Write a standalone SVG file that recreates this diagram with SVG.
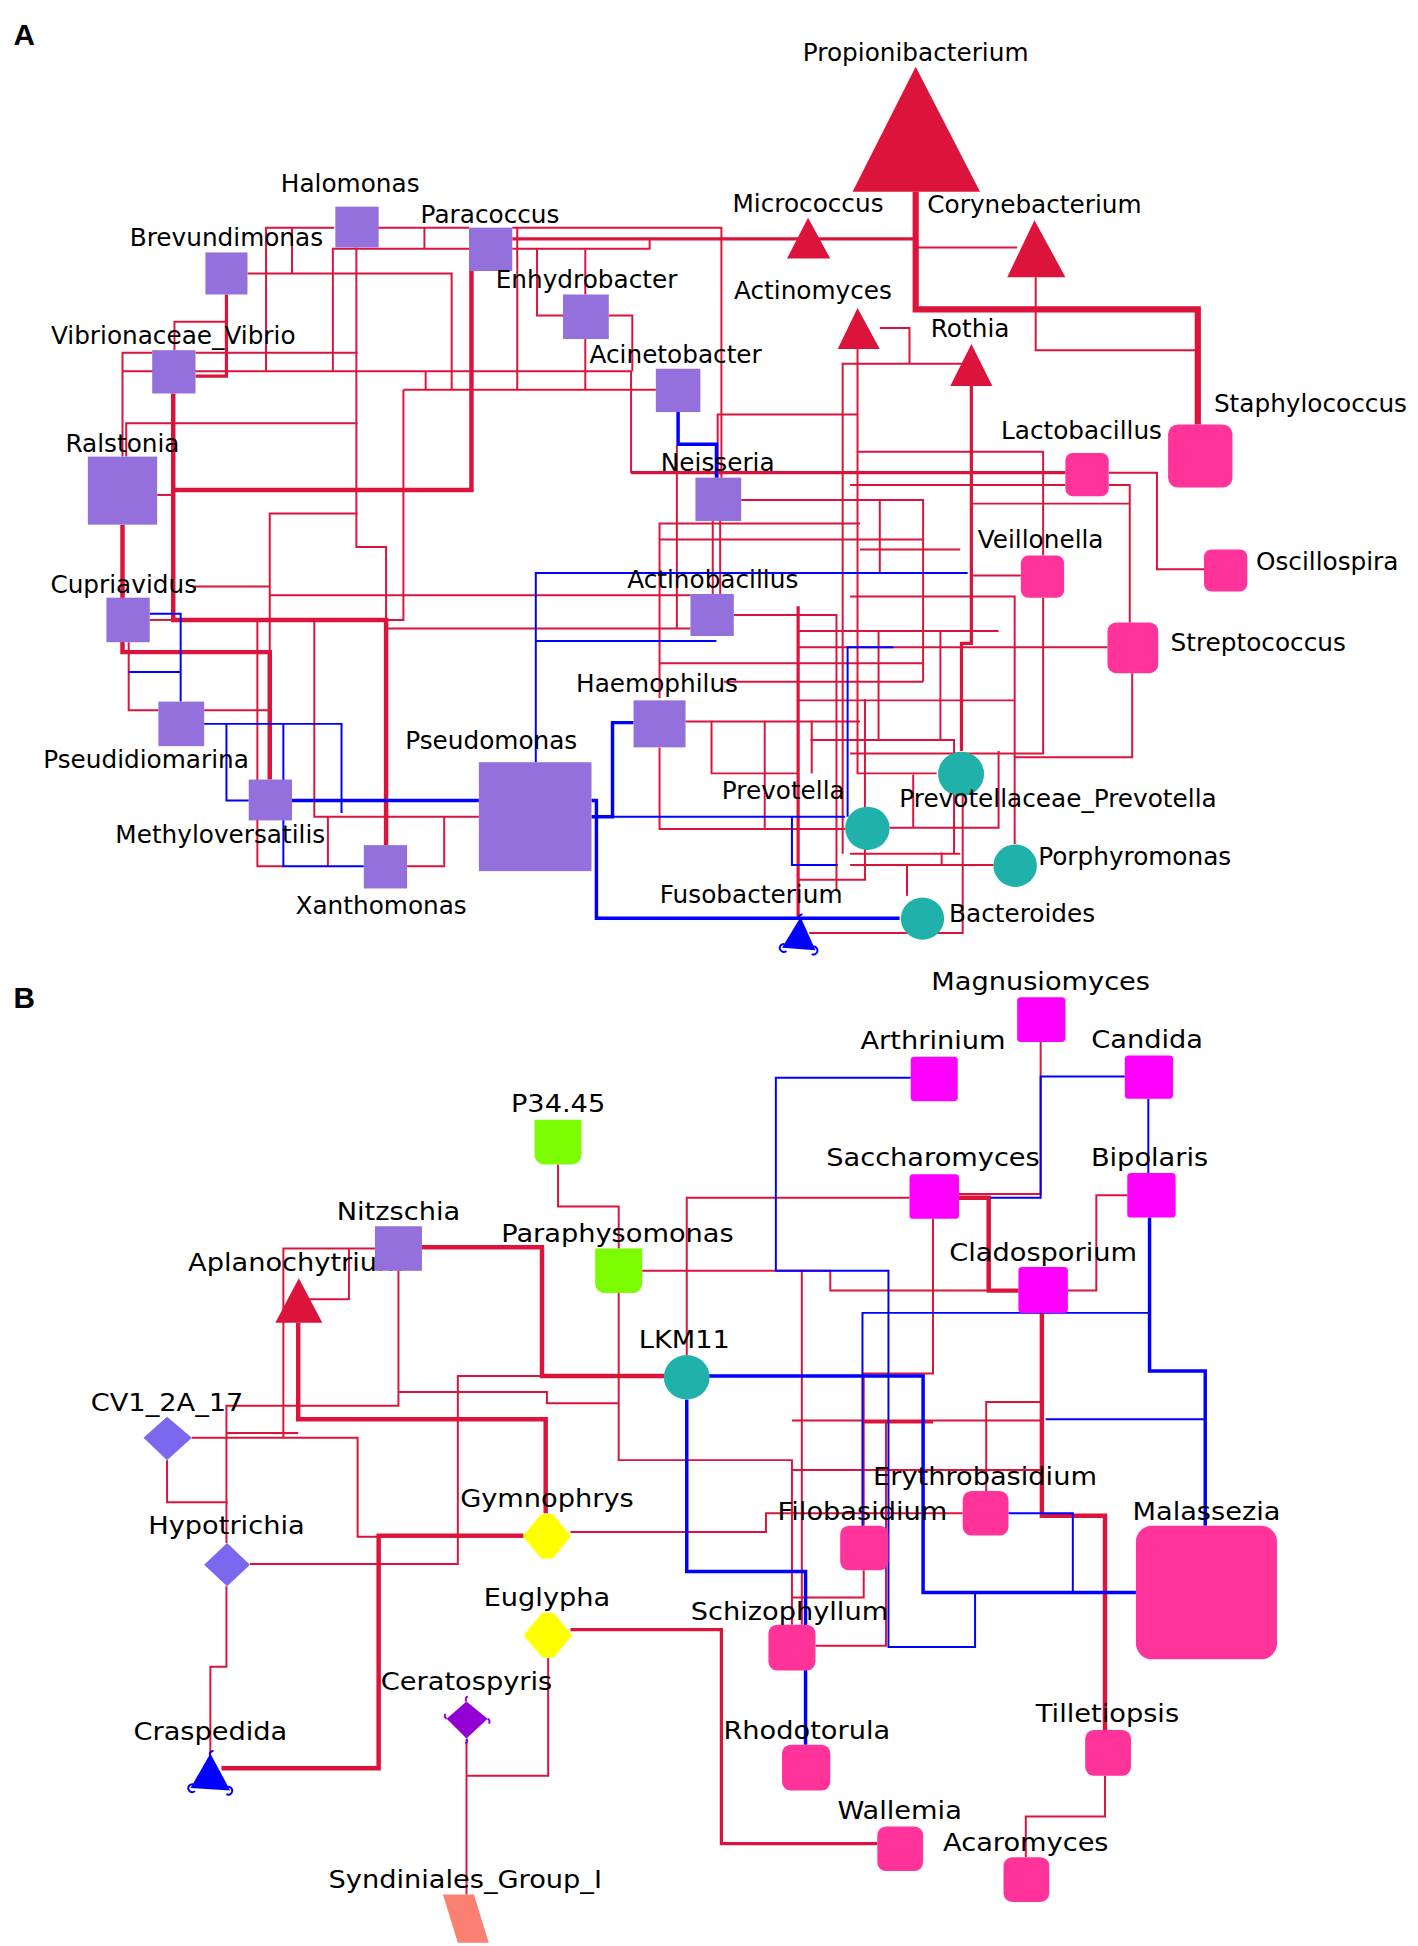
<svg xmlns="http://www.w3.org/2000/svg" width="1418" height="1946" viewBox="0 0 1418 1946">
<style>
.r{stroke:#DC143C;stroke-width:1.6;fill:none}
.r2{stroke:#DC143C;stroke-width:2.6;fill:none}
.r3{stroke:#DC143C;stroke-width:3.6;fill:none}
.r5{stroke:#DC143C;stroke-width:5;fill:none}
.b{stroke:#0000FF;stroke-width:1.6;fill:none}
.b2{stroke:#0000FF;stroke-width:2.8;fill:none}
text{font-family:"DejaVu Sans","Liberation Sans",sans-serif;font-size:20px;fill:#000}
.s{text-anchor:start}
.m{text-anchor:middle}
.hd{font-family:"Liberation Sans",Arial,sans-serif;font-weight:bold;font-size:24px}
.pu{fill:#9370DB}
.cr{fill:#DC143C}
.pk{fill:#FF3399}
.tl{fill:#20B2AA}
.mg{fill:#FF00FF}
.gr{fill:#7CFC00}
.ye{fill:#FFFF00;stroke:#FFFF00;stroke-width:3;stroke-linejoin:round}
.sl{fill:#7B68EE}
.curl{fill:none;stroke-width:1.6}
</style>
<rect width="1418" height="1946" fill="#fff"/>
<g transform="scale(1.2374)">
<text class="hd" x="11" y="36">A</text>
<text class="hd" x="11" y="815">B</text>

<g id="connectors">
<!-- Panel A red -->
<polyline class="r" points="215,300 215,184 270,184"/>
<polyline class="r" points="305,184 379,184"/>
<polyline class="r" points="414,184 583,184 583,386"/>
<polyline class="r" points="236,184 236,221"/>
<polyline class="r" points="200,221 365,221 365,315"/>
<polyline class="r" points="343,184 343,201"/>
<polyline class="r" points="379,201 269,201 269,300"/>
<polyline class="r" points="414,201 525,201 525,193"/>
<polyline class="r" points="473,201 473,238"/>
<polyline class="r" points="473,274 473,315"/>
<polyline class="r" points="434,201 434,255 455,255"/>
<polyline class="r" points="492,255 511,255 511,300"/>
<polyline class="r" points="326,315 530,315"/>
<polyline class="r" points="344,300 344,315"/>
<polyline class="r" points="418,184 418,315"/>
<polyline class="r" points="326,315 326,501 312,501"/>
<polyline class="r" points="288,200 288,442 312,442 312,683"/>
<polyline class="r" points="183,260 141,260 141,283"/>
<polyline class="r" points="99,369 99,285 123,285"/>
<polyline class="r" points="158,285 289,285"/>
<polyline class="r" points="99,300 510,300 510,382"/>
<polyline class="r2" points="510,382 861,382"/>
<polyline class="r" points="102,369 102,342 289,342"/>
<polyline class="r" points="218,527 218,415 289,415"/>
<polyline class="r" points="157,474 218,474"/>
<polyline class="r" points="218,481 558,481"/>
<polyline class="r" points="313,508 558,508"/>
<polyline class="r" points="127,400 140,400"/>
<polyline class="r" points="121,501 140,501"/>
<polyline class="r" points="104,519 104,574 128,574"/>
<polyline class="r" points="165,574 218,574"/>
<polyline class="r" points="208,501 208,700 229,700"/>
<polyline class="r" points="254,501 254,660 387,660"/>
<polyline class="r" points="265,660 265,700"/>
<polyline class="r" points="329,700 359,700 359,660"/>
<polyline class="r" points="554,583 695,583"/>
<polyline class="r" points="533,604 533,670 683,670"/>
<polyline class="r" points="533,564 533,423 695,423"/>
<polyline class="r" points="533,436 746,436"/>
<polyline class="r" points="599,404 746,404 746,551"/>
<polyline class="r" points="576,421 576,480"/>
<polyline class="r" points="582,421 582,480"/>
<polyline class="r" points="547,360 547,508"/>
<polyline class="r" points="593,497 676,497 676,720"/>
<polyline class="r" points="693,282 693,625 757,625"/>
<polyline class="r" points="711,265 735,265 735,294"/>
<polyline class="r" points="681,690 681,294 785,294"/>
<polyline class="r" points="580,386 580,335 693,335"/>
<polyline class="r" points="693,365 843,365 843,449"/>
<polyline class="r" points="843,483 843,609 687,609"/>
<polyline class="r" points="687,392 861,392"/>
<polyline class="r" points="896,392 913,392 913,503"/>
<polyline class="r" points="785,407 913,407"/>
<polyline class="r" points="973,460 935,460 935,382 896,382"/>
<polyline class="r" points="915,544 915,612 820,612 820,682"/>
<polyline class="r" points="645,523 895,523"/>
<polyline class="r" points="825,465 785,465"/>
<polyline class="r" points="776,444 695,444"/>
<polyline class="r" points="687,482 820,482 820,612"/>
<polyline class="r" points="654,754 778,754 778,643"/>
<polyline class="r" points="719,669 807,669 807,607"/>
<polyline class="r" points="687,690 776,690"/>
<polyline class="r" points="687,699 803,699"/>
<polyline class="r" points="733,699 733,724"/>
<polyline class="r" points="699,565 699,711"/>
<polyline class="r" points="533,536 746,536"/>
<polyline class="r" points="585,551 746,551"/>
<polyline class="r" points="575,583 575,625 645,625"/>
<polyline class="r" points="618,583 618,669"/>
<polyline class="r" points="645,711 700,711"/>
<polyline class="r" points="711,404 711,463"/>
<polyline class="r" points="656,583 656,625"/>
<polyline class="r" points="738,626 738,669"/>
<polyline class="r" points="761,689 761,699"/>
<polyline class="r" points="645,566 820,566"/>
<polyline class="r" points="655,598 771,598 771,690"/>
<polyline class="r" points="710,510 710,598"/>
<polyline class="r" points="760,510 760,598"/>
<polyline class="r" points="645,510 807,510"/>
<polyline class="r" points="740,200 822,200"/>
<polyline class="r" points="837,224 837,283 968,283"/>
<polyline class="r2" points="414,193 740,193"/>
<polyline class="r5" points="740,155 740,250 968,250 968,343"/>
<polyline class="r3" points="381,219 381,396 140,396"/>
<polyline class="r3" points="140,318 140,501 312,501 312,683"/>
<polyline class="r2" points="183,238 183,304 158,304"/>
<polyline class="r3" points="99,424 99,527 218,527 218,630"/>
<polyline class="r2" points="785,312 785,520 777,520 777,607"/>
<polyline class="r2" points="645,490 645,743"/>
<!-- Panel A blue -->
<polyline class="b2" points="548,333 548,359 579,359 579,386"/>
<polyline class="b" points="121,496 146,496 146,567"/>
<polyline class="b" points="104,543 146,543"/>
<polyline class="b" points="165,585 276,585 276,657"/>
<polyline class="b" points="183,585 183,647 201,647"/>
<polyline class="b" points="229,585 229,700 294,700"/>
<polyline class="b2" points="236,647 387,647"/>
<polyline class="b" points="433,616 433,463 782,463"/>
<polyline class="b" points="433,518 579,518"/>
<polyline class="b2" points="478,660 495,660 495,584 512,584"/>
<polyline class="b" points="495,660 683,660"/>
<polyline class="b2" points="478,647 482,647 482,742 727,742"/>
<polyline class="b" points="640,660 640,699 677,699"/>
<polyline class="b" points="722,523 685,523 685,660"/>

<!-- Panel B red -->
<polyline class="r" points="451,941 451,975 500,975 500,1009"/>
<polyline class="r" points="229,1162 229,1009 303,1009"/>
<polyline class="r" points="241,1050 282,1050 282,1009"/>
<polyline class="r" points="322,1027 322,1136 183,1136 183,1247"/>
<polyline class="r" points="155,1162 289,1162 289,1242 423,1242"/>
<polyline class="r" points="183,1158 241,1158"/>
<polyline class="r" points="202,1264 370,1264 370,1112 438,1112"/>
<polyline class="r" points="183,1282 183,1347 170,1347 170,1417"/>
<polyline class="r" points="135,1180 135,1214 184,1214"/>
<polyline class="r" points="461,1238 619,1238 619,1223 778,1223"/>
<polyline class="r" points="377,1406 377,1531"/>
<polyline class="r" points="443,1340 443,1435 377,1435"/>
<polyline class="r" points="519,1027 648,1027 648,1313"/>
<polyline class="r" points="735,968 555,968 555,1095"/>
<polyline class="r" points="841,842 841,965 775,965"/>
<polyline class="r" points="911,966 886,966 886,1043 863,1043"/>
<polyline class="r" points="893,1435 893,1468 829,1468 829,1501"/>
<polyline class="r" points="754,985 754,1110 698,1110 698,1233"/>
<polyline class="r" points="842,1133 797,1133 797,1205"/>
<polyline class="r" points="640,1188 842,1188"/>
<polyline class="r" points="698,1269 698,1291 640,1291"/>
<polyline class="r" points="500,1045 500,1180 640,1180 640,1313"/>
<polyline class="r" points="648,1027 671,1027 671,1043 823,1043"/>
<polyline class="r" points="640,1148 842,1148"/>
<polyline class="r" points="322,1125 442,1125 442,1134 500,1134"/>
<polyline class="r2" points="461,1317 583,1317 583,1490 709,1490"/>
<polyline class="r3" points="341,1008 438,1008 438,1112 537,1112"/>
<polyline class="r3" points="241,1069 241,1147 441,1147 441,1223"/>
<polyline class="r3" points="179,1429 306,1429 306,1241 423,1241"/>
<polyline class="r3" points="775,968 799,968 799,1043 823,1043"/>
<polyline class="r3" points="842,1061 842,1225 893,1225 893,1398"/>
<polyline class="r2" points="698,1149 754,1149"/>
<!-- Panel B blue -->
<polyline class="b2" points="555,1131 555,1270 651,1270 651,1410"/>
<polyline class="b2" points="571,1112 746,1112 746,1287 918,1287"/>
<polyline class="b" points="909,870 841,870 841,968 800,968"/>
<polyline class="b" points="928,888 928,948"/>
<polyline class="b2" points="929,984 929,1108 974,1108 974,1233"/>
<polyline class="b" points="929,1061 697,1061 697,1233"/>
<polyline class="b" points="815,1223 867,1223 867,1287"/>
<polyline class="b" points="736,871 627,871 627,1027 718,1027 718,1331 788,1331 788,1287"/>
<polyline class="b" points="845,1147 974,1147"/>
<polyline class="r" points="659,1330 716,1330 716,1150"/>
</g>

<!-- Panel A nodes -->
<g id="Propionibacterium"><polygon class="cr" points="740,54 689,155 792,155"/><text class="m" x="740" y="49">Propionibacterium</text></g>
<g id="Micrococcus"><polygon class="cr" points="653,176 636,209 671,209"/><text class="m" x="653" y="171">Micrococcus</text></g>
<g id="Corynebacterium"><polygon class="cr" points="836,178 814,224 861,224"/><text class="m" x="836" y="172">Corynebacterium</text></g>
<g id="Actinomyces"><polygon class="cr" points="693,249 677,282 711,282"/><text class="m" x="657" y="242">Actinomyces</text></g>
<g id="Rothia"><polygon class="cr" points="785,278 768,312 802,312"/><text class="m" x="784" y="272">Rothia</text></g>
<g id="Halomonas"><rect class="pu" x="271" y="167" width="35" height="33"/><text class="m" x="283" y="155">Halomonas</text></g>
<g id="Paracoccus"><rect class="pu" x="379" y="184" width="35" height="35"/><text class="m" x="396" y="180">Paracoccus</text></g>
<g id="Brevundimonas"><rect class="pu" x="166" y="204" width="34" height="34"/><text class="m" x="183" y="199">Brevundimonas</text></g>
<g id="Enhydrobacter"><rect class="pu" x="455" y="238" width="37" height="36"/><text class="m" x="474" y="233">Enhydrobacter</text></g>
<g id="Vibrionaceae_Vibrio"><rect class="pu" x="123" y="283" width="35" height="35"/><text class="m" x="140" y="278">Vibrionaceae_Vibrio</text></g>
<g id="Acinetobacter"><rect class="pu" x="530" y="298" width="36" height="35"/><text class="m" x="546" y="293">Acinetobacter</text></g>
<g id="Ralstonia"><rect class="pu" x="71" y="369" width="56" height="55"/><text class="m" x="99" y="365">Ralstonia</text></g>
<g id="Neisseria"><rect class="pu" x="562" y="386" width="37" height="35"/><text class="m" x="580" y="381">Neisseria</text></g>
<g id="Cupriavidus"><rect class="pu" x="86" y="483" width="35" height="36"/><text class="m" x="100" y="479">Cupriavidus</text></g>
<g id="Actinobacillus"><rect class="pu" x="558" y="480" width="35" height="34"/><text class="m" x="576" y="475">Actinobacillus</text></g>
<g id="Pseudidiomarina"><rect class="pu" x="128" y="567" width="37" height="36"/><text class="m" x="118" y="621">Pseudidiomarina</text></g>
<g id="Methyloversatilis"><rect class="pu" x="201" y="630" width="35" height="33"/><text class="m" x="178" y="681">Methyloversatilis</text></g>
<g id="Xanthomonas"><rect class="pu" x="294" y="683" width="35" height="35"/><text class="m" x="308" y="739">Xanthomonas</text></g>
<g id="Pseudomonas"><rect class="pu" x="387" y="616" width="91" height="88"/><text class="m" x="397" y="605">Pseudomonas</text></g>
<g id="Haemophilus"><rect class="pu" x="512" y="566" width="42" height="38"/><text class="m" x="531" y="559">Haemophilus</text></g>
<g id="Staphylococcus"><rect class="pk" x="944" y="343" width="52" height="51" rx="8"/><text class="s" x="981" y="333">Staphylococcus</text></g>
<g id="Lactobacillus"><rect class="pk" x="861" y="366" width="35" height="35" rx="6"/><text class="m" x="874" y="355">Lactobacillus</text></g>
<g id="Veillonella"><rect class="pk" x="825" y="449" width="35" height="34" rx="6"/><text class="m" x="841" y="443">Veillonella</text></g>
<g id="Oscillospira"><rect class="pk" x="973" y="444" width="35" height="34" rx="6"/><text class="s" x="1015" y="461">Oscillospira</text></g>
<g id="Streptococcus"><rect class="pk" x="895" y="503" width="41" height="41" rx="7"/><text class="s" x="946" y="526">Streptococcus</text></g>
<g id="Prevotellaceae_Prevotella"><ellipse class="tl" cx="776.7" cy="625.5" rx="18.6" ry="18"/><text class="m" x="855" y="652">Prevotellaceae_Prevotella</text></g>
<g id="Prevotella"><ellipse class="tl" cx="701" cy="669.4" rx="18" ry="17.5"/><text class="m" x="633" y="646">Prevotella</text></g>
<g id="Porphyromonas"><ellipse class="tl" cx="820.4" cy="699.6" rx="17.6" ry="17.2"/><text class="s" x="839" y="699">Porphyromonas</text></g>
<g id="Bacteroides"><ellipse class="tl" cx="745.5" cy="742.4" rx="17.5" ry="17"/><text class="s" x="767" y="745">Bacteroides</text></g>
<g id="Fusobacterium"><polygon fill="#0000FF" points="647,741 632,766 659,768"/><path class="curl" stroke="#0000FF" d="M634,763 a3.2,3.2 0 1 0 1.5,5.5 M657,765 a3.2,3.2 0 1 1 -1,6 M646,743 a2.6,2.6 0 0 1 2.5,-4"/><text class="m" x="607" y="730">Fusobacterium</text></g>

<!-- Panel B nodes -->
<g id="Magnusiomyces"><rect class="mg" x="822" y="806" width="39" height="36" rx="3"/><text class="m" transform="translate(841,800) scale(1.1,1)">Magnusiomyces</text></g>
<g id="Arthrinium"><rect class="mg" x="736" y="854" width="38" height="36" rx="3"/><text class="m" transform="translate(754,848) scale(1.1,1)">Arthrinium</text></g>
<g id="Candida"><rect class="mg" x="909" y="853" width="39" height="35" rx="3"/><text class="m" transform="translate(927,847) scale(1.1,1)">Candida</text></g>
<g id="Saccharomyces"><rect class="mg" x="735" y="949" width="40" height="36" rx="3"/><text class="m" transform="translate(754,942) scale(1.1,1)">Saccharomyces</text></g>
<g id="Bipolaris"><rect class="mg" x="911" y="948" width="39" height="36" rx="3"/><text class="m" transform="translate(929,942) scale(1.1,1)">Bipolaris</text></g>
<g id="Cladosporium"><rect class="mg" x="823" y="1024" width="40" height="37" rx="3"/><text class="m" transform="translate(843,1019) scale(1.1,1)">Cladosporium</text></g>
<g id="P34.45"><path class="gr" d="M432,905 H470 V932 Q470,941 461,941 H441 Q432,941 432,932 Z"/><text class="m" transform="translate(451,899) scale(1.1,1)">P34.45</text></g>
<g id="Paraphysomonas"><path class="gr" d="M481,1009 H519 V1036 Q519,1045 510,1045 H490 Q481,1045 481,1036 Z"/><text class="m" transform="translate(499,1004) scale(1.1,1)">Paraphysomonas</text></g>
<g id="Aplanochytrium"><polygon class="cr" points="241.5,1033 222.5,1069 260.5,1069"/><text class="s" transform="translate(152,1027) scale(1.1,1)">Aplanochytrium</text></g>
<g id="Nitzschia"><rect class="pu" x="303" y="991" width="38" height="36"/><text class="m" transform="translate(322,986) scale(1.1,1)">Nitzschia</text></g>
<g id="LKM11"><ellipse class="tl" cx="555" cy="1113" rx="18.5" ry="18"/><text class="m" transform="translate(553,1089) scale(1.1,1)">LKM11</text></g>
<g id="CV1_2A_17"><polygon class="sl" points="135,1145 155,1162 135,1180 116,1162"/><text class="m" transform="translate(135,1140) scale(1.1,1)">CV1_2A_17</text></g>
<g id="Hypotrichia"><polygon class="sl" points="183.5,1247 202,1264.5 183.5,1282 165,1264.5"/><text class="m" transform="translate(183,1240) scale(1.1,1)">Hypotrichia</text></g>
<g id="Gymnophrys"><polygon class="ye" points="438,1225 446,1225 459.5,1241.5 446,1258 438,1258 424.5,1241.5"/><text class="m" transform="translate(442,1218) scale(1.1,1)">Gymnophrys</text></g>
<g id="Euglypha"><polygon class="ye" points="439,1305 447,1305 460.5,1321.5 447,1338 439,1338 425,1321.5"/><text class="m" transform="translate(442,1298) scale(1.1,1)">Euglypha</text></g>
<g id="Ceratospyris"><polygon fill="#9400D3" points="377,1375 394,1389 377,1405 361,1389"/><path class="curl" stroke="#9400D3" d="M377,1375 a2.5,2.5 0 0 1 1,-4 M394,1389 a2.5,2.5 0 0 1 1,4 M377,1405 a2.5,2.5 0 0 1 -1,4 M361,1389 a2.5,2.5 0 0 1 -1,-4"/><text class="m" transform="translate(377,1366) scale(1.1,1)">Ceratospyris</text></g>
<g id="Craspedida"><polygon fill="#0000FF" points="170,1417 154,1445 186,1447"/><path class="curl" stroke="#0000FF" d="M156,1442 a3.2,3.2 0 1 0 1.5,5.5 M184,1444 a3.2,3.2 0 1 1 -1,6 M170,1419 a2.6,2.6 0 0 1 2.5,-4"/><text class="m" transform="translate(170,1406) scale(1.1,1)">Craspedida</text></g>
<g id="Syndiniales_Group_I"><polygon fill="#FA8072" points="358,1531 383,1531 395,1570 370,1570"/><text class="m" transform="translate(376,1526) scale(1.1,1)">Syndiniales_Group_I</text></g>
<g id="Erythrobasidium"><rect class="pk" x="778" y="1205" width="37" height="36" rx="7"/><text class="m" transform="translate(796,1200) scale(1.1,1)">Erythrobasidium</text></g>
<g id="Filobasidium"><rect class="pk" x="679" y="1233" width="39" height="36" rx="7"/><text class="m" transform="translate(697,1228) scale(1.1,1)">Filobasidium</text></g>
<g id="Malassezia"><rect class="pk" x="918" y="1233" width="114" height="108" rx="13"/><text class="m" transform="translate(975,1228) scale(1.1,1)">Malassezia</text></g>
<g id="Schizophyllum"><rect class="pk" x="621" y="1313" width="38" height="37" rx="7"/><text class="m" transform="translate(638,1309) scale(1.1,1)">Schizophyllum</text></g>
<g id="Rhodotorula"><rect class="pk" x="632" y="1410" width="39" height="37" rx="7"/><text class="m" transform="translate(652,1405) scale(1.1,1)">Rhodotorula</text></g>
<g id="Tilletiopsis"><rect class="pk" x="877" y="1398" width="37" height="37" rx="7"/><text class="m" transform="translate(895,1392) scale(1.1,1)">Tilletiopsis</text></g>
<g id="Wallemia"><rect class="pk" x="709" y="1476" width="37" height="36" rx="7"/><text class="m" transform="translate(727,1470) scale(1.1,1)">Wallemia</text></g>
<g id="Acaromyces"><rect class="pk" x="811" y="1501" width="37" height="36" rx="7"/><text class="m" transform="translate(829,1496) scale(1.1,1)">Acaromyces</text></g>
</g>
</svg>
